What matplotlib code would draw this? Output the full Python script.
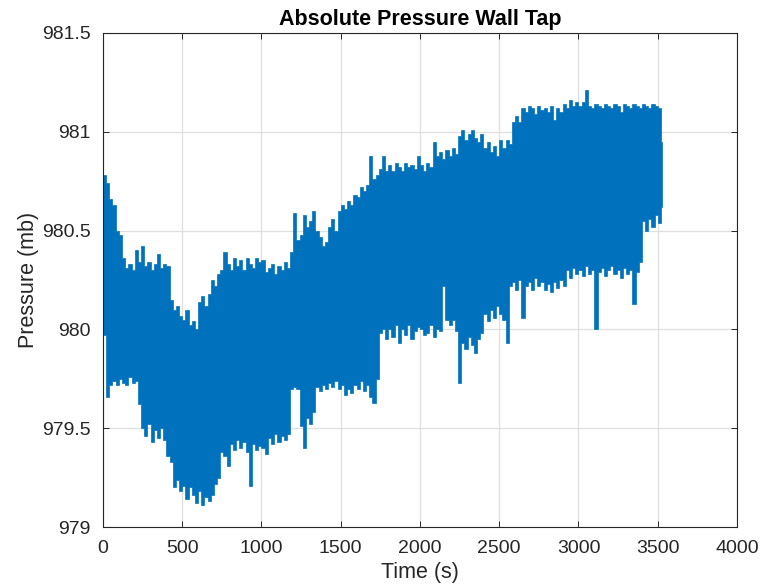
import numpy as np
import matplotlib
matplotlib.use("Agg")
import matplotlib.pyplot as plt

plt.rcParams['font.family'] = ['Liberation Sans', 'DejaVu Sans']

# Wall-tap absolute pressure, summarised as max / min over 20 s windows
window_edges = np.append(np.arange(0, 3521, 20), 3528)  # s

p_max = np.array([
    980.78, 980.74, 980.66, 980.63, 980.50, 980.48, 980.36, 980.31, 980.33, 980.30,
    980.40, 980.34, 980.42, 980.32, 980.34, 980.30, 980.33, 980.38, 980.31, 980.33,
    980.32, 980.15, 980.10, 980.12, 980.07, 980.05, 980.10, 980.02, 980.04, 980.00,
    980.14, 980.17, 980.12, 980.18, 980.25, 980.22, 980.28, 980.30, 980.39, 980.33,
    980.30, 980.36, 980.32, 980.35, 980.30, 980.36, 980.33, 980.31, 980.36, 980.34,
    980.35, 980.29, 980.31, 980.33, 980.28, 980.32, 980.30, 980.34, 980.31, 980.39,
    980.59, 980.45, 980.48, 980.58, 980.52, 980.55, 980.60, 980.50, 980.47, 980.42,
    980.44, 980.52, 980.56, 980.50, 980.60, 980.63, 980.61, 980.65, 980.63, 980.68,
    980.67, 980.72, 980.70, 980.73, 980.88, 980.76, 980.78, 980.81, 980.88, 980.80,
    980.83, 980.80, 980.84, 980.82, 980.80, 980.84, 980.82, 980.83, 980.81, 980.88,
    980.83, 980.80, 980.84, 980.82, 980.95, 980.88, 980.90, 980.86, 980.91, 980.88,
    980.92, 980.89, 980.98, 981.01, 980.96, 980.99, 981.01, 980.97, 980.95, 980.99,
    980.92, 980.95, 980.90, 980.93, 980.88, 980.96, 980.92, 980.96, 980.94, 981.05,
    981.08, 981.05, 981.12, 981.10, 981.13, 981.12, 981.09, 981.13, 981.11, 981.12,
    981.10, 981.13, 981.06, 981.12, 981.10, 981.14, 981.12, 981.16, 981.13, 981.15,
    981.13, 981.15, 981.21, 981.13, 981.12, 981.14, 981.13, 981.12, 981.14, 981.13,
    981.12, 981.14, 981.13, 981.10, 981.14, 981.13, 981.12, 981.14, 981.13, 981.12,
    981.14, 981.13, 981.12, 981.14, 981.13, 981.12, 980.95,
])

p_min = np.array([
    979.97, 979.66, 979.72, 979.74, 979.72, 979.75, 979.73, 979.72, 979.76, 979.73,
    979.74, 979.62, 979.50, 979.46, 979.52, 979.43, 979.49, 979.45, 979.50, 979.44,
    979.36, 979.33, 979.20, 979.24, 979.18, 979.21, 979.14, 979.20, 979.16, 979.12,
    979.18, 979.11, 979.15, 979.13, 979.16, 979.22, 979.25, 979.38, 979.36, 979.31,
    979.42, 979.39, 979.44, 979.40, 979.43, 979.38, 979.21, 979.42, 979.39, 979.41,
    979.40, 979.37, 979.45, 979.42, 979.47, 979.43, 979.46, 979.44, 979.47, 979.70,
    979.71, 979.70, 979.51, 979.40, 979.55, 979.52, 979.58, 979.71, 979.69, 979.72,
    979.70, 979.73, 979.71, 979.74, 979.70, 979.72, 979.67, 979.70, 979.68, 979.72,
    979.70, 979.74, 979.69, 979.72, 979.66, 979.63, 979.75, 979.98, 980.00, 979.95,
    980.00, 979.96, 980.02, 979.93, 980.00, 979.97, 980.02, 979.95, 979.99, 980.01,
    980.00, 979.97, 979.98, 980.02, 979.96, 980.00, 979.99, 980.22, 980.05, 980.02,
    980.05, 979.99, 979.73, 979.93, 979.90, 979.96, 979.92, 979.88, 979.95, 979.98,
    980.08, 980.04, 980.10, 980.06, 980.12, 980.08, 980.05, 979.93, 980.22, 980.24,
    980.20, 980.25, 980.06, 980.22, 980.24, 980.20, 980.26, 980.22, 980.24, 980.20,
    980.23, 980.19, 980.24, 980.21, 980.25, 980.22, 980.30, 980.26, 980.31, 980.28,
    980.30, 980.27, 980.32, 980.28, 980.30, 980.00, 980.29, 980.31, 980.27, 980.30,
    980.32, 980.28, 980.30, 980.26, 980.31, 980.28, 980.30, 980.13, 980.29, 980.34,
    980.55, 980.50, 980.56, 980.52, 980.58, 980.54, 980.62,
])

x_ticks = [0, 500, 1000, 1500, 2000, 2500, 3000, 3500, 4000]
y_ticks = [979, 979.5, 980, 980.5, 981, 981.5]
y_tick_labels = ['979', '979.5', '980', '980.5', '981', '981.5']

line_color = '#0072BD'

fig = plt.figure(figsize=(7.69, 5.87), dpi=100)
ax = fig.add_axes([0.1339, 0.1022, 0.8245, 0.8416])

# each window drawn as the span swept by the trace
ax.stairs(p_max, window_edges, baseline=p_min, fill=True,
          facecolor=line_color, edgecolor=line_color, lw=0.5, zorder=2)

ax.set_xlim(0, 4000)
ax.set_ylim(979, 981.5)
ax.set_xticks(x_ticks)
ax.set_yticks(y_ticks)
ax.set_yticklabels(y_tick_labels)

ax.grid(True, color='#dfdfdf', lw=0.9)
ax.set_axisbelow(True)

edge = '#262626'
for s in ax.spines.values():
    s.set_color(edge)
    s.set_linewidth(0.8)
ax.tick_params(direction='in', top=True, right=True, length=4, width=0.7,
               colors=edge, labelsize=14, pad=9)

ax.set_title('Absolute Pressure Wall Tap', fontsize=15.5, fontweight='bold',
             color='black', pad=6)
ax.set_xlabel('Time (s)', fontsize=15.5, color=edge, labelpad=4)
ax.set_ylabel('Pressure (mb)', fontsize=15.5, color=edge, labelpad=2)

fig.savefig('out.png', dpi=100)
